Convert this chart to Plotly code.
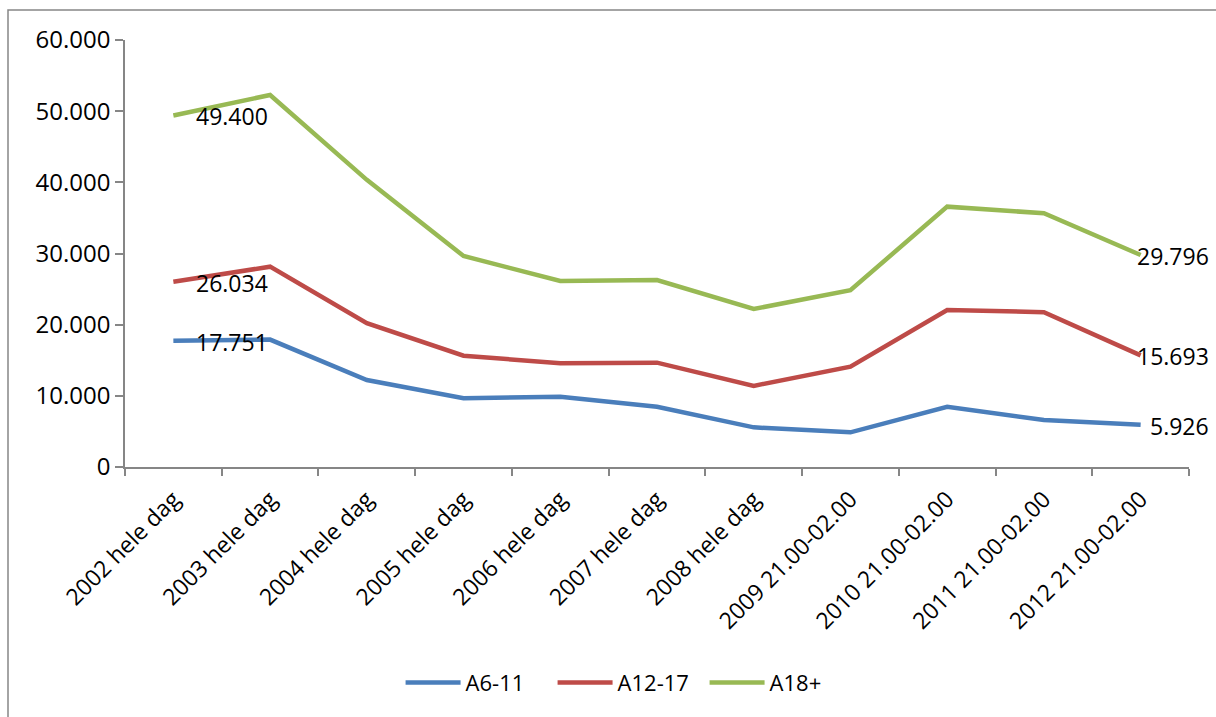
import plotly.graph_objects as go

categories = ["2002 hele dag", "2003 hele dag", "2004 hele dag", "2005 hele dag",
              "2006 hele dag", "2007 hele dag", "2008 hele dag", "2009 21.00-02.00",
              "2010 21.00-02.00", "2011 21.00-02.00", "2012 21.00-02.00"]
a6_11 = [17751, 17900, 12220, 9650, 9880, 8470, 5570, 4870, 8470, 6600, 5926]
a12_17 = [26034, 28150, 20200, 15640, 14570, 14660, 11400, 14100, 22060, 21750, 15693]
a18 = [49400, 52270, 40350, 29650, 26130, 26270, 22200, 24850, 36580, 35650, 29796]
series_names = ["A6-11", "A12-17", "A18+"]
y_ticks = [0, 10000, 20000, 30000, 40000, 50000, 60000]

colors = ["#4A7EBB", "#BE4B48", "#98B954"]
FONT = "Open Sans"

fig = go.Figure()
for name, vals, col in zip(series_names, [a6_11, a12_17, a18], colors):
    fig.add_trace(go.Scatter(
        x=categories, y=vals, mode="lines", name=name,
        line=dict(color=col, width=4.5, shape="linear"),
    ))

def fmt(v):
    return f"{v:,}".replace(",", ".")

annotations = []
for vals in [a6_11, a12_17, a18]:
    annotations.append(dict(
        x=categories[0], y=vals[0], text=fmt(vals[0]), showarrow=False,
        xanchor="left", yanchor="middle", xshift=21, yshift=-1,
        font=dict(family=FONT, size=23, color="#000000")))
    annotations.append(dict(
        x=categories[-1], y=vals[-1], text=fmt(vals[-1]), showarrow=False,
        xanchor="right", yanchor="middle", xshift=70, yshift=-1,
        font=dict(family=FONT, size=23, color="#000000")))

fig.update_layout(
    width=1216, height=717,
    margin=dict(l=125, r=27, t=40, b=250),
    paper_bgcolor="white", plot_bgcolor="white",
    separators=",.",
    font=dict(family=FONT, size=22, color="#000000"),
    showlegend=True,
    legend=dict(orientation="h", x=0.259, xanchor="left", y=-0.505, yanchor="middle",
                font=dict(family=FONT, size=22), itemwidth=55, entrywidth=82,
                bgcolor="rgba(0,0,0,0)"),
    annotations=annotations,
    shapes=[dict(type="rect", xref="paper", yref="paper",
                 x0=-117/1064, x1=1.1, y0=-0.75, y1=1 + 30/427,
                 line=dict(color="#868686", width=1.5), layer="below")],
)
fig.update_xaxes(
    type="category", range=[-0.5, 10.5], tickangle=-45,
    showline=True, linecolor="#868686", linewidth=1.5,
    ticks="outside", tickson="boundaries", ticklen=7, tickcolor="#868686", tickwidth=1.5,
    showgrid=False, zeroline=False, ticklabelstandoff=8,
    tickfont=dict(family=FONT, size=23),
)
fig.update_yaxes(
    range=[0, 60000], tickvals=y_ticks, tickformat=",d",
    showline=True, linecolor="#868686", linewidth=1.5,
    ticks="outside", ticklen=8, tickcolor="#868686", tickwidth=1.5,
    showgrid=False, zeroline=False,
    tickfont=dict(family=FONT, size=24),
)

fig.write_html("out.html")
